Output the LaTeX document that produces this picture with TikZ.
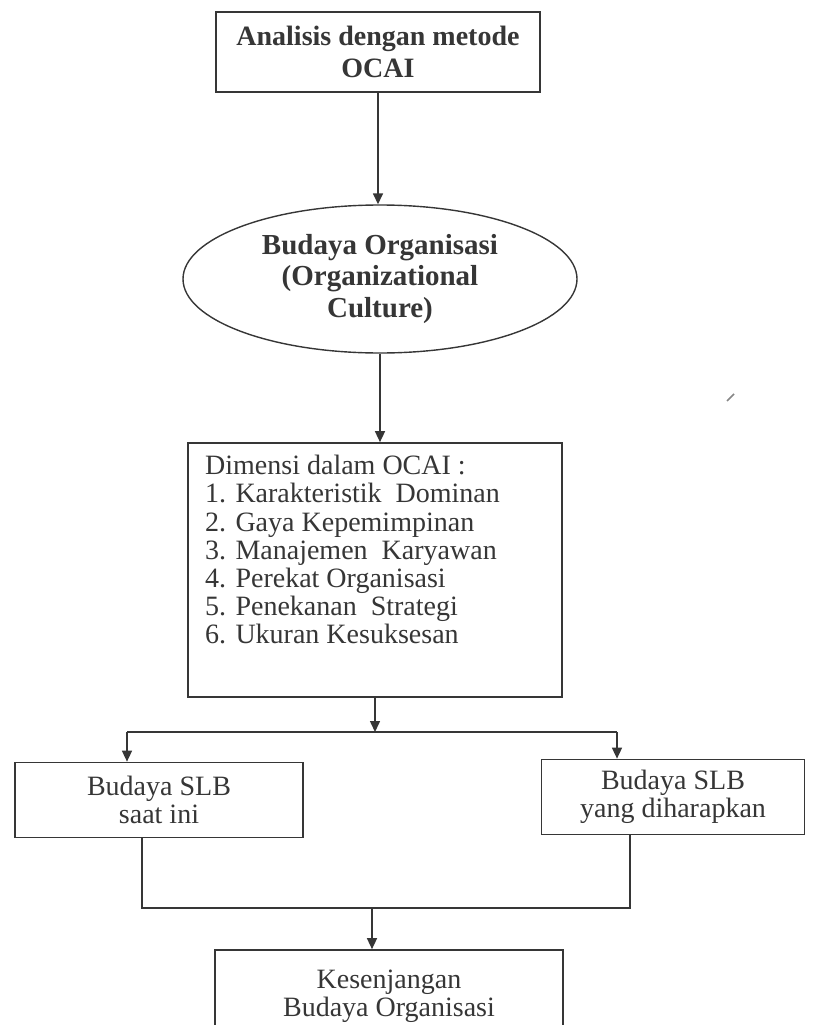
\documentclass[tikz,border=0pt]{standalone}
\usepackage{fontspec}
\setmainfont{Liberation Serif}
\usetikzlibrary{shapes.geometric,arrows.meta,positioning}
\definecolor{ink}{HTML}{363636}
\tikzset{
  box/.style={draw=ink, line width=1.7pt, fill=white, align=center, inner sep=0pt, text=ink},
  oval/.style={ellipse, draw=ink, line width=1.4pt, align=center, inner sep=0pt, text=ink},
  flow/.style={draw=ink, line width=1.5pt, -{Triangle[length=11pt,width=10pt]}},
  link/.style={draw=ink, line width=1.5pt},
  bigbold/.style={font=\fontsize{28}{32}\selectfont\bfseries},
  plain/.style={font=\fontsize{28}{28}\selectfont},
}
\begin{document}
\begin{tikzpicture}[x=1pt,y=-1pt]
    \useasboundingbox (0,0) rectangle (812,1025);
    % top
    \node[box, bigbold, minimum width=324, minimum height=80] (ocai) at (378,52) {Analisis dengan metode\\OCAI};
    \node[oval, font=\fontsize{29}{31.5}\selectfont\bfseries, minimum width=394, minimum height=148] (culture) at (380,279) {Budaya Organisasi\\(Organizational\\Culture)};
    \draw[flow] (ocai.south) -- (ocai.south |- culture.north);
    % dimensions
    \node[box, minimum width=374, minimum height=254] (dims) at (375,570) {};
    \node[anchor=north west, align=left, inner sep=0pt, text=ink, font=\fontsize{28}{28.2}\selectfont] (dimtext) at (205,455) {Dimensi dalam OCAI :\\
        1. Karakteristik\ \ Dominan\\
        2. Gaya Kepemimpinan\\
        3. Manajemen\ \ Karyawan\\
        4. Perekat Organisasi\\
        5. Penekanan\ \ Strategi\\
        6. Ukuran Kesuksesan};
    \draw[flow] (culture.south) -- (culture.south |- dims.north);
    % current and expected culture
    \node[box, plain, minimum width=288, minimum height=75] (now) at (159,800) {Budaya SLB\\saat ini};
    \node[box, plain, minimum width=263, minimum height=75] (hope) at (673,797) {Budaya SLB\\yang diharapkan};
    \coordinate (lefttap) at (127,732);
    \coordinate (righttap) at (617,732);
    \draw[flow] (dims.south) -- (dims.south |- lefttap);
    \draw[link] (lefttap) -- (righttap);
    \draw[flow] (lefttap) -- (lefttap |- now.north);
    \draw[flow] (righttap) -- (righttap |- hope.north);
    % gap
    \node[box, plain, minimum width=348, minimum height=92] (gap) at (389,996) {Kesenjangan\\Budaya Organisasi};
    \coordinate (nowtap) at (142,908);
    \coordinate (hopetap) at (630,908);
    \coordinate (merge) at (372,908);
    \draw[link] (nowtap |- now.south) -- (nowtap) -- (hopetap) -- (hopetap |- hope.south);
    \draw[flow] (merge) -- (merge |- gap.north);
    % speck
    \draw[ink!60, line width=1.5pt] (727,401) -- (734,394);
\end{tikzpicture}
\end{document}
